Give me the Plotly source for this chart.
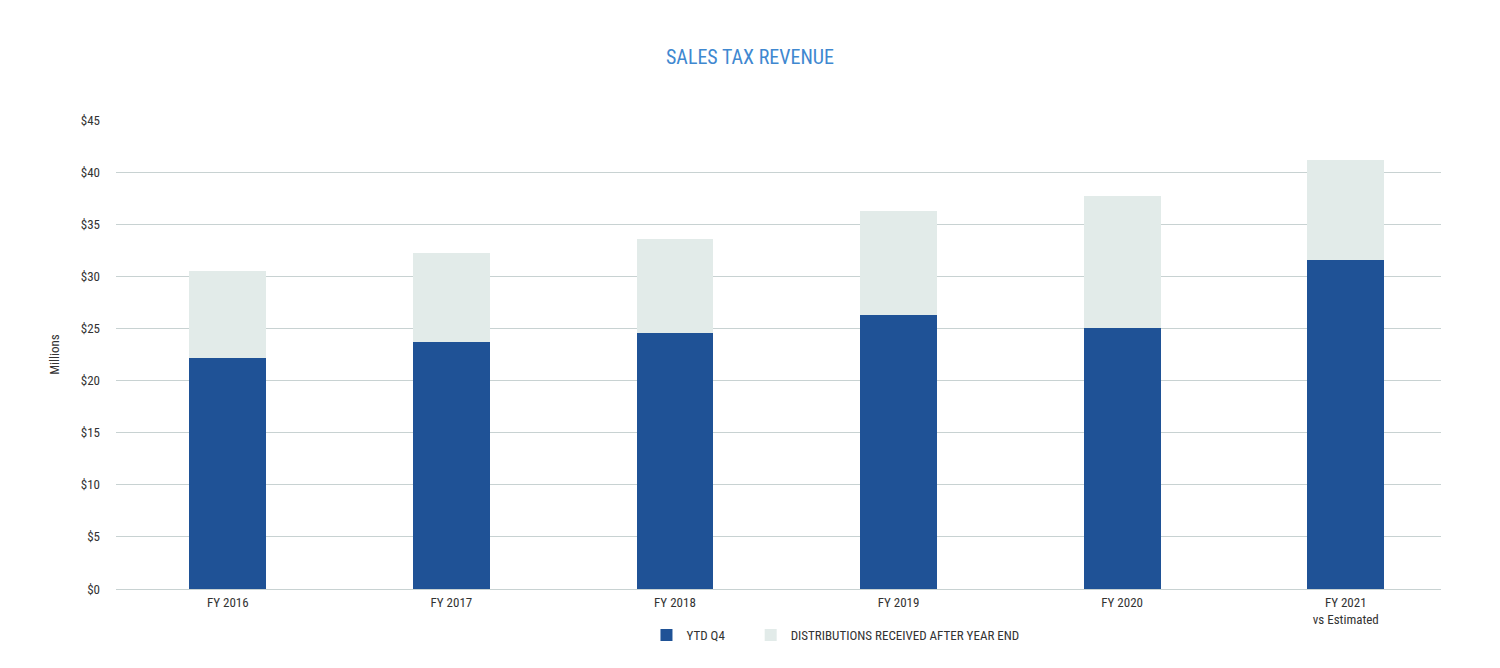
import plotly.graph_objects as go

categories = ["FY 2016", "FY 2017", "FY 2018", "FY 2019", "FY 2020", "FY 2021<br>vs Estimated"]
ytd_q4 = [22.2, 23.7, 24.6, 26.3, 25.0, 31.6]
after_year_end = [8.3, 8.5, 9.0, 10.0, 12.7, 9.6]
y_ticks = [0, 5, 10, 15, 20, 25, 30, 35, 40, 45]
y_tick_labels = ["$0", "$5", "$10", "$15", "$20", "$25", "$30", "$35", "$40", "$45"]
series_names = ["YTD Q4", "DISTRIBUTIONS RECEIVED AFTER YEAR END"]

FONT = "Roboto Condensed, Liberation Sans Narrow, sans-serif"
x = list(range(len(categories)))
PAD = "\u00a0" * 7  # extra spacing after the first legend entry

fig = go.Figure()
fig.add_trace(go.Bar(x=x, y=ytd_q4, name=series_names[0] + PAD,
                     marker=dict(color="#1F5296", line=dict(width=0)), width=0.344))
fig.add_trace(go.Bar(x=x, y=after_year_end, name=series_names[1],
                     marker=dict(color="#E2EBE9", line=dict(width=0)), width=0.344))

# page body has an 8px margin, so the figure is offset by 8px; compensate
fig.update_layout(
    barmode="stack",
    width=1484, height=652,
    margin=dict(l=108, r=51, t=112, b=71, autoexpand=False),
    paper_bgcolor="white", plot_bgcolor="white",
    font=dict(family=FONT, size=13, color="#333333"),
    title=dict(text="SALES TAX REVENUE", x=0.5, xanchor="center", xref="container",
               y=0.925, yanchor="middle", yref="container",
               font=dict(family=FONT, size=20, color="#3F88D0")),
    xaxis=dict(tickmode="array", tickvals=x, ticktext=categories, range=[-0.5, 5.426],
               showgrid=False, showline=False, zeroline=False, ticks="", ticklabelstandoff=4,
               tickfont=dict(size=13, color="#333333")),
    yaxis=dict(tickmode="array", tickvals=y_ticks, ticktext=y_tick_labels, range=[0, 45],
               showgrid=True, gridcolor="#C8D2D2", gridwidth=1, zeroline=True, zerolinecolor="#C8D2D2",
               zerolinewidth=1, showline=False, ticks="", ticklabelstandoff=15,
               title=dict(text="Millions", standoff=18, font=dict(size=13, color="#333333")),
               tickfont=dict(size=13, color="#333333")),
    legend=dict(orientation="h", x=0.543, xanchor="center", y=-0.098, yanchor="middle",
                font=dict(size=13, color="#333333"), itemwidth=30, traceorder="normal"),
    bargap=0,
)

fig.write_html("out.html")
